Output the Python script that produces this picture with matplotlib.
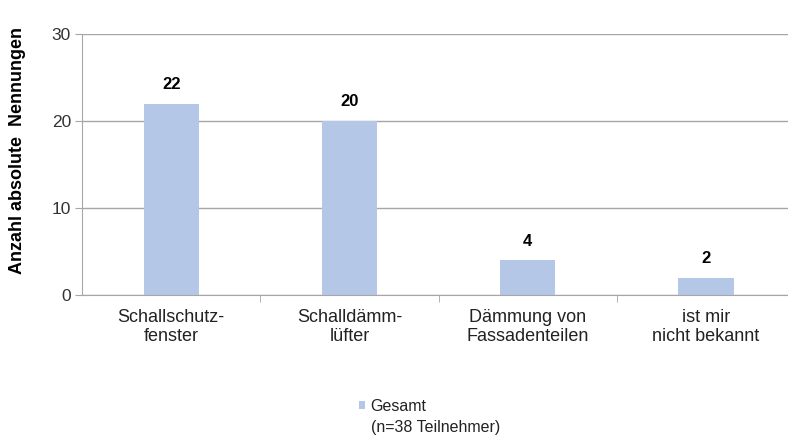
import numpy as np
import matplotlib
matplotlib.use('Agg')
import matplotlib.pyplot as plt

plt.rcParams['font.family'] = ['Liberation Sans', 'DejaVu Sans']

categories = ['Schallschutz-\nfenster', 'Schalldämm-\nlüfter', 'Dämmung von\nFassadenteilen', 'ist mir\nnicht bekannt']
values = [22, 20, 4, 2]
series_name = 'Gesamt'
series_note = '(n=38 Teilnehmer)'

bar_color = '#B4C7E7'
grid_color = '#A6A6A6'

fig = plt.figure(figsize=(7.88, 4.4), dpi=100)
ax = fig.add_axes([82 / 788, 1 - 295 / 440, 1 - 82 / 788, (295 - 34) / 440])

index = np.arange(len(categories))
bars = ax.bar(index, values, width=0.31, color=bar_color, label=series_name, zorder=2)

# Werte über den Balken
for i, v in enumerate(values):
    ax.text(i, v + 2.2, str(v), ha='center', va='center', fontsize=12,
            fontweight='bold', color='black')

ax.set_ylim(0, 30)
ax.set_yticks([0, 10, 20, 30])
ax.set_xlim(-0.5, 3.46)
ax.yaxis.grid(True, color=grid_color, linewidth=1, zorder=0)
ax.set_axisbelow(True)

ax.set_xticks(index)
ax.set_xticklabels(categories, fontsize=13, color='#222222', linespacing=1.2)
ax.tick_params(axis='x', length=0, pad=10)
ax.set_xticks(np.arange(0.5, 3.5, 1), minor=True)
ax.tick_params(axis='x', which='minor', length=5, color=grid_color, direction='out')
ax.tick_params(axis='y', length=5, color=grid_color, labelsize=12.5, labelcolor='#333333', pad=3)

for s in ['top', 'right']:
    ax.spines[s].set_visible(False)
ax.spines['left'].set_color(grid_color)
ax.spines['bottom'].set_color(grid_color)

fig.text(18 / 788, 1 - 150 / 440, 'Anzahl absolute  Nennungen', rotation=90,
         ha='center', va='center', fontsize=13, fontweight='bold')

leg = fig.legend(handles=[bars], labels=[series_name], loc='upper left',
                 bbox_to_anchor=(359 / 788, 1 - 399 / 440), frameon=False,
                 fontsize=11.5, handlelength=0.4, handleheight=0.4,
                 handletextpad=0.3, borderpad=0, borderaxespad=0)
for t in leg.get_texts():
    t.set_color('#222222')
fig.text(371 / 788, 1 - 427 / 440, series_note, ha='left', va='center',
         fontsize=11.5, color='#222222')

fig.savefig('out.png', dpi=100)
